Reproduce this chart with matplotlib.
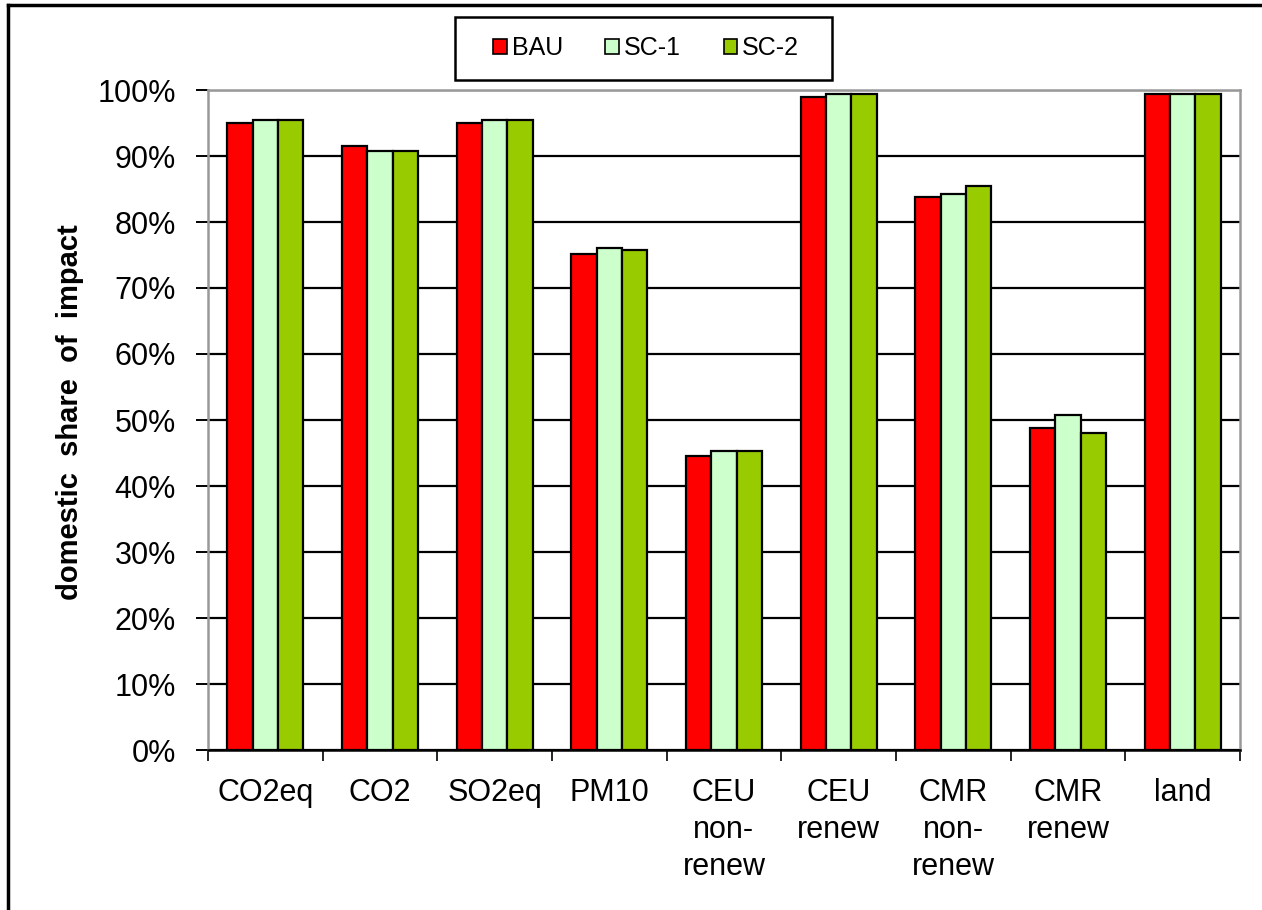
import matplotlib
matplotlib.use("Agg")
import matplotlib.pyplot as plt
import numpy as np
from matplotlib.lines import Line2D
from matplotlib.patches import Rectangle

plt.rcParams['font.family'] = ['Liberation Sans', 'DejaVu Sans']

categories = ["CO2eq", "CO2", "SO2eq", "PM10", "CEU\nnon-\nrenew", "CEU\nrenew",
              "CMR\nnon-\nrenew", "CMR\nrenew", "land"]
series_names = ["BAU", "SC-1", "SC-2"]
bau = [95.0, 91.5, 95.0, 75.2, 44.5, 99.0, 83.8, 48.8, 99.4]
sc1 = [95.5, 90.8, 95.5, 76.0, 45.3, 99.4, 84.2, 50.8, 99.4]
sc2 = [95.5, 90.8, 95.5, 75.7, 45.3, 99.4, 85.5, 48.1, 99.4]
yticks = [0, 10, 20, 30, 40, 50, 60, 70, 80, 90, 100]
colors = ["#FF0000", "#CCFFCC", "#99CC00"]

W, H = 1262, 910
fig = plt.figure(figsize=(W / 100, H / 100), dpi=100)
ax = fig.add_axes([208 / W, 1 - 750 / H, 1032 / W, 660 / H])

x = np.arange(len(categories))
w = 0.22
for i, (vals, col, name) in enumerate(zip([bau, sc1, sc2], colors, series_names)):
    ax.bar(x + (i - 1) * w, vals, width=w, color=col, edgecolor="black",
           linewidth=1.6, label=name, zorder=3)

ax.set_xlim(-0.5, len(categories) - 0.5)
ax.set_ylim(0, 100)
ax.set_yticks(yticks)
ax.set_yticklabels([f"{t}%" for t in yticks], fontsize=22)
ax.yaxis.grid(True, color="black", linewidth=1.6, zorder=0)
ax.set_axisbelow(True)

# category labels centred, tick marks on group boundaries
ax.set_xticks(x)
ax.set_xticklabels(categories, fontsize=22, linespacing=1.3)
ax.tick_params(axis="x", length=0, pad=20)
ax.set_xticks(np.arange(-0.5, len(categories)), minor=True)
ax.tick_params(axis="x", which="minor", length=8, width=1.2, color="black")
ax.tick_params(axis="y", length=9, width=1.4, color="black", pad=14)

for s in ax.spines.values():
    s.set_color("#999999")
    s.set_linewidth(1.8)
ax.spines["bottom"].set_color("black")

fig.text(70 / W, 1 - 412 / H, "domestic  share  of  impact", rotation=90,
         fontsize=21, fontweight="bold", ha="center", va="center")

# legend box
fig.add_artist(Rectangle((455 / W, 1 - 80 / H), 377 / W, 63 / H, transform=fig.transFigure,
                         facecolor="white", edgecolor="black", linewidth=1.8))
handles = [plt.Rectangle((0, 0), 1, 1, facecolor=c, edgecolor="black", linewidth=1.2)
           for c in colors]
leg = fig.legend(handles, series_names, loc="center",
                 bbox_to_anchor=(646 / W, 1 - 48 / H), ncol=3, fontsize=18,
                 frameon=False, handlelength=0.55, handleheight=0.55,
                 handletextpad=0.2, columnspacing=1.7)

# outer border of the figure
fig.add_artist(Line2D([8 / W, 8 / W], [0, 1 - 5 / H], color="black",
                      linewidth=2.5, transform=fig.transFigure))
fig.add_artist(Line2D([8 / W, 1], [1 - 5 / H, 1 - 5 / H], color="black",
                      linewidth=2.5, transform=fig.transFigure))

fig.savefig("out.png", dpi=100)
